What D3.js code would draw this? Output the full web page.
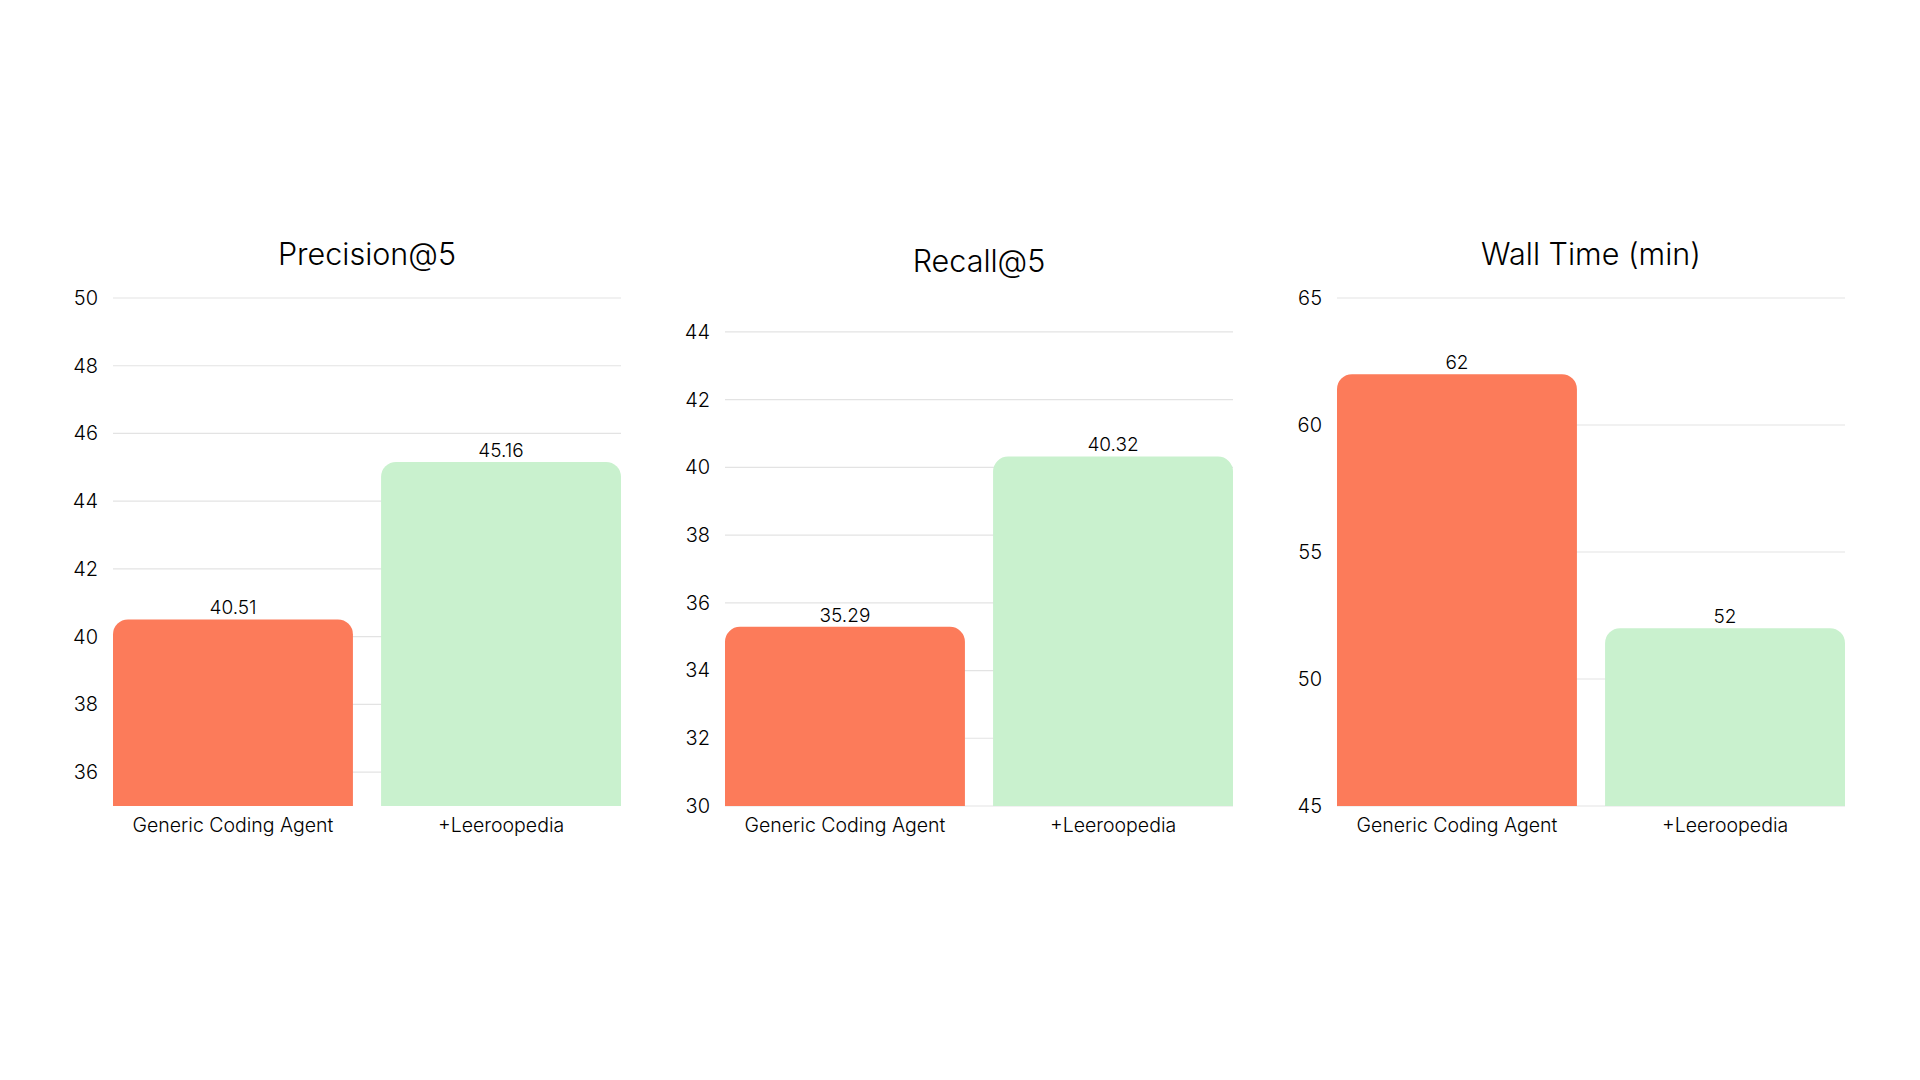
<!DOCTYPE html>
<html>
<head>
<meta charset="utf-8">
<script src="https://cdn.jsdelivr.net/npm/d3@7"></script>
<style>
  html, body { margin: 0; padding: 0; background: #ffffff; }
  svg { display: block; }
  text { font-family: "Inter", "Noto Sans", sans-serif; fill: #000000; }
</style>
</head>
<body>
<svg id="chart" width="1920" height="1080"></svg>
<script>
// ---- data ----
const categories = ["Generic Coding Agent", "+Leeroopedia"];
const panelTitles = ["Precision@5", "Recall@5", "Wall Time (min)"];
const precisionValues = [40.51, 45.16];
const recallValues = [35.29, 40.32];
const wallTimeValues = [62, 52];
const precisionTicks = [36, 38, 40, 42, 44, 46, 48, 50];
const recallTicks = [30, 32, 34, 36, 38, 40, 42, 44];
const wallTimeTicks = [45, 50, 55, 60, 65];
const precisionDomain = [35, 50];
const recallDomain = [30, 45];
const wallTimeDomain = [45, 65];

// ---- layout / style ----
const colors = ["#FC7B5A", "#C9F1CE"];
const panelLefts = [113, 725, 1337];
const panelWidth = 508;
const plotTop = 298, plotBottom = 806;
const titleOffsets = [45, 38, 45];
const radius = 15;

const panels = [
  { title: panelTitles[0], values: precisionValues, ticks: precisionTicks, domain: precisionDomain },
  { title: panelTitles[1], values: recallValues, ticks: recallTicks, domain: recallDomain },
  { title: panelTitles[2], values: wallTimeValues, ticks: wallTimeTicks, domain: wallTimeDomain }
];

const svg = d3.select("#chart");

function topRoundedBar(x0, y0, w, h, r) {
  r = Math.min(r, w / 2, h);
  const p = d3.path();
  p.moveTo(x0, y0 + h);
  p.lineTo(x0, y0 + r);
  p.arcTo(x0, y0, x0 + r, y0, r);
  p.lineTo(x0 + w - r, y0);
  p.arcTo(x0 + w, y0, x0 + w, y0 + r, r);
  p.lineTo(x0 + w, y0 + h);
  p.closePath();
  return p.toString();
}

panels.forEach((pn, i) => {
  const left = panelLefts[i];
  const x = d3.scaleBand().domain(categories).range([left, left + panelWidth])
    .paddingInner(0.105).paddingOuter(0);
  const y = d3.scaleLinear().domain(pn.domain).range([plotBottom, plotTop]);
  const g = svg.append("g");

  // gridlines
  g.selectAll("line.grid").data(pn.ticks).enter().append("line")
    .attr("x1", left).attr("x2", left + panelWidth)
    .attr("y1", d => y(d)).attr("y2", d => y(d))
    .attr("stroke", "#e3e3e3").attr("stroke-width", 1.2);

  // y tick labels via axis
  const yAxis = d3.axisLeft(y).tickValues(pn.ticks).tickSize(0).tickPadding(15);
  const ya = g.append("g").attr("transform", `translate(${left},0)`).call(yAxis);
  ya.select(".domain").remove();
  ya.selectAll("text").style("font-size", "20px").style("font-weight", 300).attr("fill", "#000")
    .style("font-family", "Inter, 'Noto Sans', sans-serif");

  // bars
  g.selectAll("path.bar").data(pn.values).enter().append("path")
    .attr("d", (d, j) => topRoundedBar(x(categories[j]), y(d), x.bandwidth(), plotBottom - y(d), radius))
    .attr("fill", (d, j) => colors[j]);

  // value labels
  g.selectAll("text.val").data(pn.values).enter().append("text")
    .attr("x", (d, j) => x(categories[j]) + x.bandwidth() / 2)
    .attr("y", d => y(d) - 5)
    .attr("text-anchor", "middle")
    .style("font-size", "19px")
    .style("font-weight", 300)
    .text(d => String(d));

  // x axis labels
  const xAxis = d3.axisBottom(x).tickSize(0).tickPadding(12);
  const xa = g.append("g").attr("transform", `translate(0,${plotBottom})`).call(xAxis);
  xa.select(".domain").remove();
  xa.selectAll("text").style("font-size", "19.5px").style("font-weight", 300).attr("fill", "#000")
    .style("font-family", "Inter, 'Noto Sans', sans-serif");

  // title
  g.append("text")
    .attr("x", left + panelWidth / 2)
    .attr("y", plotTop - titleOffsets[i])
    .attr("text-anchor", "middle")
    .attr("dominant-baseline", "central")
    .style("font-size", "30.5px")
    .style("font-weight", 300)
    .text(pn.title);
});
</script>
</body>
</html>
